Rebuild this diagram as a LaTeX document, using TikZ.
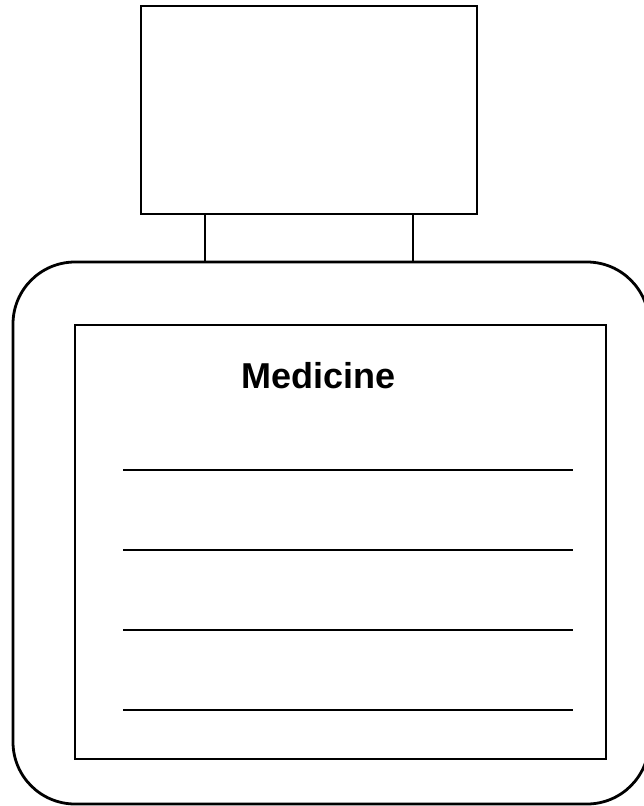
\documentclass[tikz,border=0pt]{standalone}
\usepackage{fontspec}
\setmainfont{Liberation Sans}
\usetikzlibrary{positioning}

\begin{document}
\begin{tikzpicture}[x=1pt, y=-1pt, line width=2.8pt, every node/.style={font=\fontsize{36}{42}\selectfont\bfseries, inner sep=0pt}]
    \clip (0,0) rectangle (644,806);
    \draw (141,6) rectangle (477,214);
    \draw (205,214) rectangle (413,262);
    \draw[rounded corners=62pt] (13,262) rectangle (649,804);
    \draw (75,325) rectangle (606,759);
    \node[anchor=base] (title) at (318.5,388) {Medicine};
    \foreach \y in {470,550,630,710}
      \draw (123,\y) -- (573,\y);
  \end{tikzpicture}
\end{document}
